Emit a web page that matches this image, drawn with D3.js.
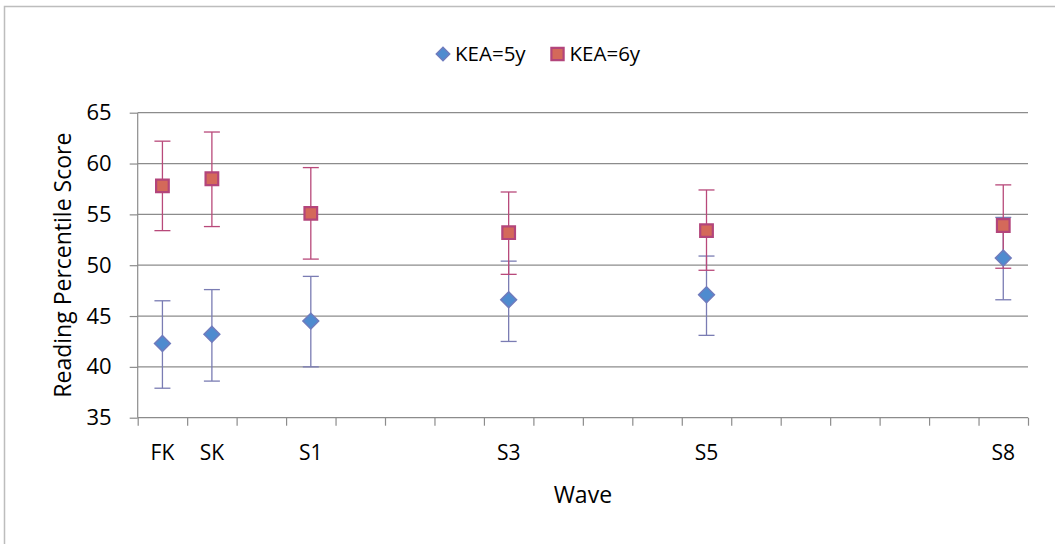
<!DOCTYPE html>
<html>
<head>
<meta charset="utf-8">
<script src="https://cdn.jsdelivr.net/npm/d3@7"></script>
<style>
  body { margin: 0; background: #fff; }
  svg { display: block; font-family: "Open Sans", sans-serif; }
</style>
</head>
<body>
<div id="chart"></div>
<script>
// waves and their slot on the half-year axis
var waves = ["FK", "SK", "S1", "S3", "S5", "S8"];
var waveSlot = [0, 1, 3, 7, 11, 17];
var nSlots = 18;

var kea5 = [42.3, 43.2, 44.5, 46.6, 47.1, 50.7];
var kea5Lo = [37.9, 38.6, 40.0, 42.5, 43.1, 46.6];
var kea5Hi = [46.5, 47.6, 48.9, 50.4, 50.9, 54.7];

var kea6 = [57.8, 58.5, 55.1, 53.2, 53.4, 53.9];
var kea6Lo = [53.4, 53.8, 50.6, 49.1, 49.5, 49.7];
var kea6Hi = [62.2, 63.1, 59.6, 57.2, 57.4, 57.9];

var yTicks = [35, 40, 45, 50, 55, 60, 65];

var svgwidth = 1055, svgheight = 544;
var margin = {top: 112.7, right: 27, bottom: 126.3, left: 137.7},
    width = svgwidth - margin.left - margin.right,
    height = svgheight - margin.top - margin.bottom;

var series = [
  {name: "KEA=5y", vals: kea5, lo: kea5Lo, hi: kea5Hi, fill: "#4f8bcf", stroke: "#6f7bbd", bar: "#7a7cb3", diamond: true},
  {name: "KEA=6y", vals: kea6, lo: kea6Lo, hi: kea6Hi, fill: "#d4695a", stroke: "#b3457b", bar: "#b8497a", diamond: false}
];

var x = d3.scaleLinear().domain([0, nSlots]).range([0, width]);
var y = d3.scaleLinear().domain([35, 65]).range([height, 0]);

var svg0 = d3.select("#chart").append("svg")
    .attr("width", svgwidth)
    .attr("height", svgheight);

// chart area border (runs off the page right and bottom)
svg0.append("rect")
    .attr("x", 4.5).attr("y", 6.5)
    .attr("width", 1100).attr("height", 600)
    .attr("fill", "none")
    .attr("stroke", "#bdbdbd")
    .attr("stroke-width", 1.5);

var svg = svg0.append("g")
    .attr("transform", "translate(" + margin.left + "," + margin.top + ")");

// gridlines
svg.selectAll(".grid")
    .data(yTicks.slice(1))
  .enter().append("line")
    .attr("x1", 0).attr("x2", width)
    .attr("y1", d => y(d)).attr("y2", d => y(d))
    .attr("stroke", "#8c8c8c")
    .attr("stroke-width", 1.2);

var yAxis = d3.axisLeft(y).tickValues(yTicks).tickSize(8).tickPadding(18);
var gy = svg.append("g").attr("class", "y axis").call(yAxis);
gy.select(".domain").attr("d", "M0," + height + "V0").attr("stroke", "#8c8c8c").attr("stroke-width", 1.2);
gy.selectAll(".tick line").attr("stroke", "#8c8c8c").attr("stroke-width", 1.2);
gy.selectAll(".tick text").style("font-size", "22px").attr("fill", "#000").attr("font-family", "'Open Sans', sans-serif");

var xAxis = d3.axisBottom(x).tickValues(d3.range(nSlots + 1)).tickSize(8).tickFormat("");
var gx = svg.append("g").attr("class", "x axis")
    .attr("transform", "translate(0," + height + ")")
    .call(xAxis);
gx.select(".domain").attr("d", "M0,0H" + width).attr("stroke", "#8c8c8c").attr("stroke-width", 1.2);
gx.selectAll(".tick line").attr("stroke", "#8c8c8c").attr("stroke-width", 1.2);

// wave labels sit in the middle of their slot
svg.selectAll(".wavelabel")
    .data(waves)
  .enter().append("text")
    .attr("x", (d, i) => x(waveSlot[i] + 0.5))
    .attr("y", height + 35)
    .attr("dy", "0.35em")
    .style("text-anchor", "middle")
    .style("font-size", "21px")
    .text(d => d);

svg.append("text")
    .attr("x", width / 2)
    .attr("y", height + 77)
    .attr("dy", "0.35em")
    .style("text-anchor", "middle")
    .style("font-size", "23px")
    .text("Wave");

svg.append("text")
    .attr("transform", "rotate(-90)")
    .attr("x", -height / 2)
    .attr("y", -75)
    .attr("dy", "0.35em")
    .style("text-anchor", "middle")
    .style("font-size", "23px")
    .text("Reading Percentile Score");

// error bars first, markers on top
series.forEach(function(s) {
  var g = svg.append("g");
  waves.forEach(function(w, i) {
    var cx = x(waveSlot[i] + 0.5);
    g.append("line")
        .attr("x1", cx).attr("x2", cx)
        .attr("y1", y(s.hi[i])).attr("y2", y(s.lo[i]))
        .attr("stroke", s.bar).attr("stroke-width", 1.3);
    [s.hi[i], s.lo[i]].forEach(function(v) {
      g.append("line")
          .attr("x1", cx - 8).attr("x2", cx + 8)
          .attr("y1", y(v)).attr("y2", y(v))
          .attr("stroke", s.bar).attr("stroke-width", 1.3);
    });
  });
});

function marker(sel, s, big) {
  sel.attr("d", d3.symbol().type(d3.symbolSquare).size(s.diamond ? (big ? 125 : 90) : (big ? 160 : 150)))
      .attr("fill", s.fill)
      .attr("stroke", s.stroke)
      .attr("stroke-width", s.diamond ? 1.5 : 2.2);
}

series.forEach(function(s) {
  svg.append("g").selectAll("path")
      .data(s.vals)
    .enter().append("path")
      .attr("transform", (d, i) => "translate(" + x(waveSlot[i] + 0.5) + "," + y(d) + ")" + (s.diamond ? " rotate(45)" : ""))
      .call(marker, s, true);
});

// legend
var legendX = [443, 557.5];
var legend = svg0.append("g");
series.forEach(function(s, i) {
  legend.append("path")
      .attr("transform", "translate(" + legendX[i] + ",54)" + (s.diamond ? " rotate(45)" : ""))
      .call(marker, s, false);
  legend.append("text")
      .attr("x", legendX[i] + 12)
      .attr("y", 54)
      .attr("dy", "0.35em")
      .style("font-size", "20.5px")
      .text(s.name);
});
</script>
</body>
</html>
